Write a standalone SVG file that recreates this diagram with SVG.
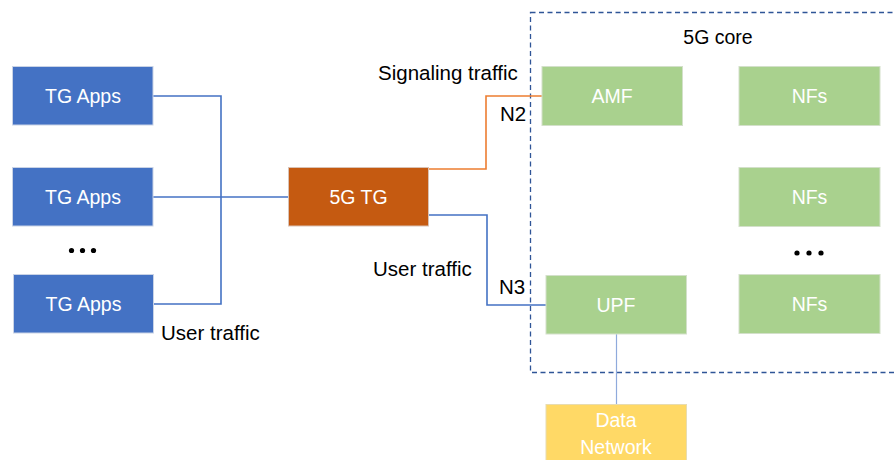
<svg xmlns="http://www.w3.org/2000/svg" width="895" height="460" viewBox="0 0 895 460">
  <style>
    text { font-family: "Liberation Sans", Arial, sans-serif; font-size: 19.5px; }
    .lbl { fill: #ffffff; text-anchor: middle; }
    .dark { fill: #000000; font-size: 20.5px; }
    .app { fill: #4472C4; stroke: #c9d3e6; stroke-width: 1; }
    .tg { fill: #C55A11; stroke: #d9c2b5; stroke-width: 1; }
    .nf { fill: #A9D18E; stroke: #d3e0ca; stroke-width: 1; }
    .dn { fill: #FFD966; stroke: #e8dcb0; stroke-width: 1; }
    .blue { fill: none; stroke: #4472C4; stroke-width: 1.6; }
    .orange { fill: none; stroke: #ED7D31; stroke-width: 1.6; }
    .thin { fill: none; stroke: #8faadc; stroke-width: 1.2; }
  </style>

  <!-- core boundary -->
  <rect id="core" x="530.5" y="12.5" width="380" height="360" fill="none" stroke="#2F5597" stroke-width="1.3" stroke-dasharray="5,3.5"/>
  <text x="718" y="44" text-anchor="middle" fill="#000000">5G core</text>

  <!-- connectors -->
  <g id="connectors">
    <polyline class="blue" points="153,96 221,96 221,304 153,304"/>
    <line class="blue" x1="153" y1="197" x2="289" y2="197"/>
    <polyline class="orange" points="429,169 486,169 486,96 542,96"/>
    <polyline class="blue" points="429,215 487,215 487,305 546,305"/>
    <line class="thin" x1="616.5" y1="334" x2="616.5" y2="404"/>
  </g>

  <!-- traffic generator apps -->
  <g id="app1">
    <rect class="app" x="12.5" y="66.5" width="140.5" height="58.5"/>
    <text class="lbl" x="83" y="103">TG Apps</text>
  </g>
  <g id="app2">
    <rect class="app" x="12.5" y="167.5" width="140.5" height="58.5"/>
    <text class="lbl" x="83" y="204">TG Apps</text>
  </g>
  <g id="app-dots">
    <circle cx="71.5" cy="250.5" r="2.6"/>
    <circle cx="82.5" cy="250.5" r="2.6"/>
    <circle cx="93.5" cy="250.5" r="2.6"/>
  </g>
  <g id="app3">
    <rect class="app" x="13.5" y="274.5" width="140" height="58.5"/>
    <text class="lbl" x="83.5" y="311">TG Apps</text>
  </g>
  <text class="dark" x="161" y="340">User traffic</text>

  <!-- 5G traffic generator -->
  <g id="tg">
    <rect class="tg" x="288.5" y="167.5" width="140" height="58.5"/>
    <text class="lbl" x="358.5" y="204">5G TG</text>
  </g>

  <text class="dark" x="378" y="80">Signaling traffic</text>
  <text class="dark" x="500" y="121">N2</text>
  <text class="dark" x="373" y="276">User traffic</text>
  <text class="dark" x="499" y="294">N3</text>

  <!-- core network functions -->
  <g id="amf">
    <rect class="nf" x="542" y="66.5" width="140.5" height="59"/>
    <text class="lbl" x="612" y="103">AMF</text>
  </g>
  <g id="nf1">
    <rect class="nf" x="739" y="66.5" width="141" height="59"/>
    <text class="lbl" x="809.5" y="103">NFs</text>
  </g>
  <g id="nf2">
    <rect class="nf" x="739" y="167.5" width="141" height="59"/>
    <text class="lbl" x="809.5" y="204">NFs</text>
  </g>
  <g id="nf-dots">
    <circle cx="797" cy="253" r="2.6"/>
    <circle cx="809" cy="253" r="2.6"/>
    <circle cx="821" cy="253" r="2.6"/>
  </g>
  <g id="nf3">
    <rect class="nf" x="739" y="274.5" width="141" height="59"/>
    <text class="lbl" x="809.5" y="311">NFs</text>
  </g>
  <g id="upf">
    <rect class="nf" x="546" y="275.5" width="140.5" height="58.5"/>
    <text class="lbl" x="616" y="312">UPF</text>
  </g>

  <!-- external data network -->
  <g id="data-network">
    <rect class="dn" x="546" y="404.5" width="140.5" height="70"/>
    <text class="lbl" x="616" y="427">Data</text>
    <text class="lbl" x="616" y="454">Network</text>
  </g>
</svg>
